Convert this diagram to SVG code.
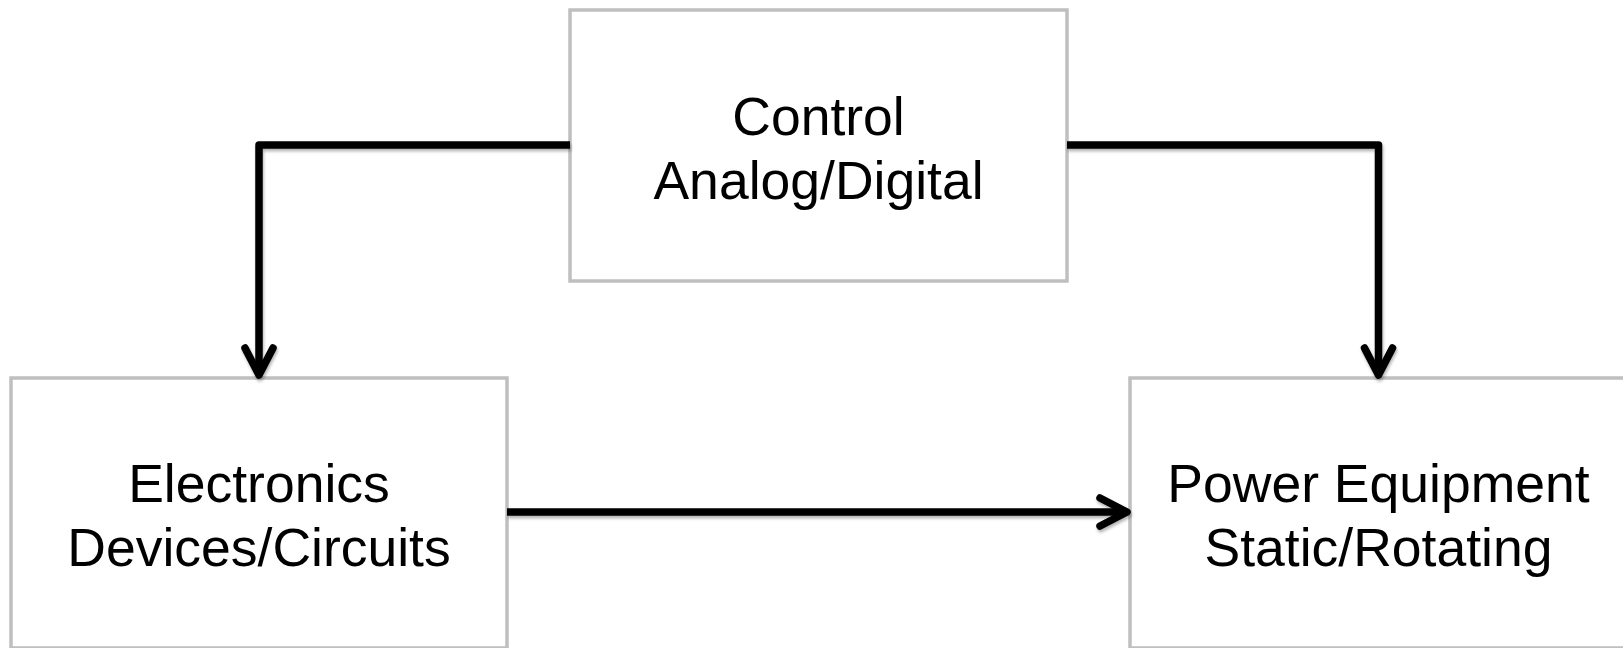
<svg xmlns="http://www.w3.org/2000/svg" width="1623" height="648" viewBox="0 0 1623 648">
<style>
.box{fill:#ffffff;stroke:#bfbfbf;stroke-width:3.5}
.lbl{font-family:"Liberation Sans",Arial,sans-serif;font-size:53.5px;fill:#000;text-anchor:middle}
.con{fill:none;stroke:#000;stroke-width:7.5;stroke-linejoin:round;stroke-linecap:butt}
.head{fill:none;stroke:#000;stroke-width:7.5;stroke-linejoin:round;stroke-linecap:round}
</style>
<defs>
<filter id="sh" x="-10%" y="-10%" width="120%" height="130%">
<feDropShadow dx="1" dy="2.5" stdDeviation="1.5" flood-color="#000" flood-opacity="0.3"/>
</filter>
</defs>
<rect width="1623" height="648" fill="#ffffff"/>
<g id="control">
<rect class="box" x="570" y="10" width="497" height="271"/>
<text class="lbl" x="818.5" y="135">Control</text>
<text class="lbl" x="818.5" y="199">Analog/Digital</text>
</g>
<g id="electronics">
<rect class="box" x="11" y="378" width="496" height="270"/>
<text class="lbl" x="259" y="502">Electronics</text>
<text class="lbl" x="259" y="566">Devices/Circuits</text>
</g>
<g id="power">
<rect class="box" x="1130" y="378" width="497" height="270"/>
<text class="lbl" x="1378.5" y="502">Power Equipment</text>
<text class="lbl" x="1378.5" y="566">Static/Rotating</text>
</g>
<g id="connectors" filter="url(#sh)">
<path class="con" d="M570,145 H259 V374"/>
<path class="head" d="M245,348 L259,375 L273,348"/>
<path class="con" d="M1067,145 H1378.5 V374"/>
<path class="head" d="M1364.5,348 L1378.5,375 L1392.5,348"/>
<path class="con" d="M507,512 H1126"/>
<path class="head" d="M1100,498 L1127,512 L1100,526"/>
</g>
</svg>
